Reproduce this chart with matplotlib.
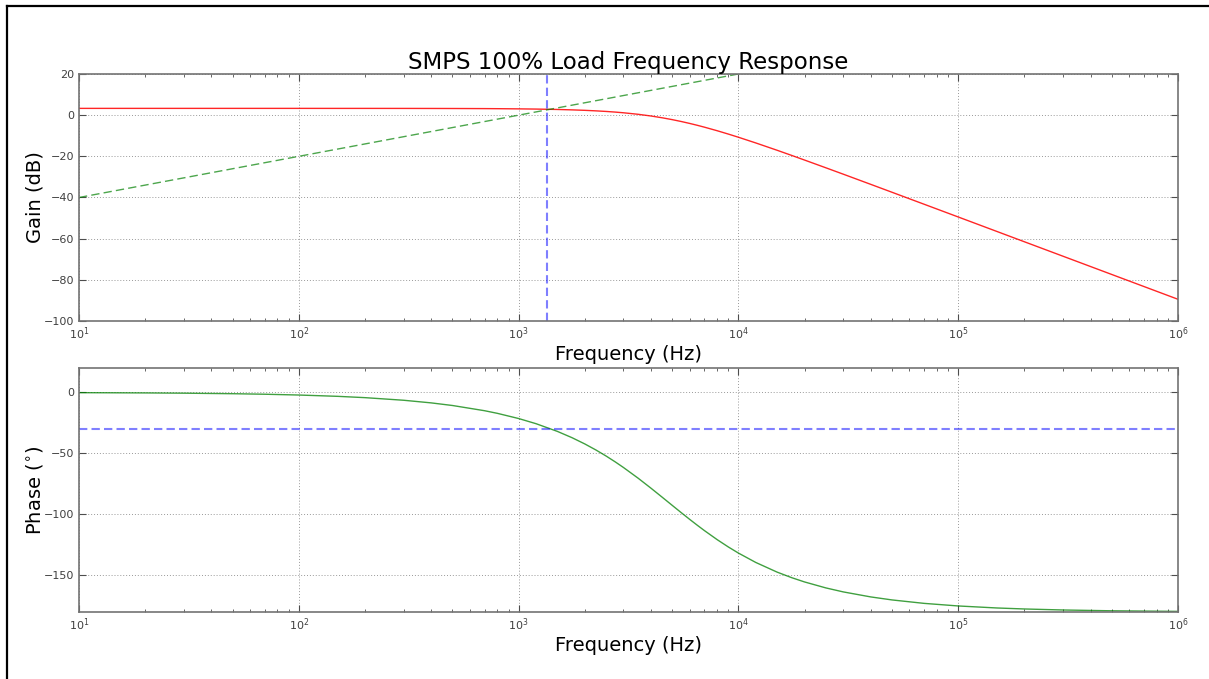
import matplotlib
matplotlib.use("Agg")
import matplotlib.pyplot as plt
from matplotlib.lines import Line2D

# Frequency points (Hz)
freq = [10, 20, 30, 50, 70, 100, 150, 200, 300, 400, 500, 700, 800, 1000,
        1200, 1500, 1750, 2000, 2250, 2500, 2750, 3000, 3500, 4000, 4500,
        5000, 5500, 6000, 6500, 7000, 8000, 9000, 10000, 12000, 15000,
        17500, 20000, 25000, 30000, 40000, 50000, 70000, 100000, 150000,
        200000, 300000, 500000, 1000000]

# Gain (dB), red curve
gain_db = [3.30, 3.30, 3.30, 3.30, 3.30, 3.30, 3.29, 3.29, 3.28, 3.26, 3.24,
           3.19, 3.15, 3.06, 2.96, 2.77, 2.57, 2.35, 2.09, 1.81, 1.50, 1.16,
           0.42, -0.40, -1.27, -2.17, -3.09, -4.01, -4.92, -5.82, -7.55,
           -9.19, -10.72, -13.50, -17.05, -19.58, -21.81, -25.57, -28.67,
           -33.61, -37.46, -43.28, -49.46, -56.50, -61.50, -68.54, -77.41,
           -89.45]

# Phase (deg), green curve
phase_deg = [-0.21, -0.43, -0.64, -1.07, -1.50, -2.15, -3.22, -4.30, -6.44,
             -8.59, -10.73, -15.01, -17.15, -21.41, -25.64, -31.94, -37.12,
             -42.23, -47.24, -52.14, -56.92, -61.56, -70.36, -78.49, -85.90,
             -92.6, -98.63, -104.04, -108.88, -113.23, -120.65, -126.70,
             -131.69, -139.40, -147.31, -151.90, -155.37, -160.26, -163.53,
             -167.64, -170.11, -172.93, -175.05, -176.70, -177.52, -178.35,
             -179.01, -179.50]

# 20 dB/decade reference line
ref_freq = [10, 10000]
ref_db = [-40, 20]

# markers
crossover_hz = 1350
phase_limit = -30

W, H = 1209, 679
fig = plt.figure(figsize=(W / 100, H / 100), dpi=100)
fig.patch.set_facecolor("white")

ax1 = fig.add_axes([79 / W, 1 - 321 / H, 1099 / W, 247 / H])
ax2 = fig.add_axes([79 / W, 1 - 612 / H, 1099 / W, 244 / H])


def style_axes(ax):
    ax.set_xscale("log")
    ax.set_xlim(10, 1e6)
    ax.grid(True, which="major", color="0.6", linestyle=(0, (1, 2)),
            linewidth=0.7)
    ax.tick_params(which="both", direction="in", top=True, right=True,
                   labelsize=8, labelcolor="0.25", color="0.3")
    ax.tick_params(which="major", length=5)
    ax.tick_params(which="minor", length=2.5)
    for s in ax.spines.values():
        s.set_color("0.45")
        s.set_linewidth(1.2)
    ax.set_xlabel("Frequency (Hz)", fontsize=14, labelpad=2)


# Gain plot
ax1.plot(freq, gain_db, color="red", lw=1, alpha=0.85)
ax1.plot(ref_freq, ref_db, color="green", lw=1, alpha=0.7,
         linestyle="--", dashes=(6, 3))
ax1.axvline(crossover_hz, color="blue", lw=1.5, alpha=0.5,
            linestyle="--", dashes=(4, 2))
style_axes(ax1)
ax1.set_ylim(-100, 20)
ax1.set_yticks(range(-100, 21, 20))
ax1.set_ylabel("Gain (dB)", fontsize=14)
ax1.set_title("SMPS 100% Load Frequency Response", fontsize=16.5, pad=1)

# Phase plot
ax2.plot(freq, phase_deg, color="green", lw=1, alpha=0.75)
ax2.axhline(phase_limit, color="blue", lw=1.5, alpha=0.5,
            linestyle="--", dashes=(4, 2))
style_axes(ax2)
ax2.set_ylim(-180, 20)
ax2.set_yticks([0, -50, -100, -150])
ax2.set_ylabel(r"Phase ($^{\circ}$)", fontsize=14)

ax1.yaxis.set_label_coords(-0.031, 0.5)
ax2.yaxis.set_label_coords(-0.031, 0.5)

# frame lines along top and left edge
fig.add_artist(Line2D([7 / W, 1], [1 - 6 / H, 1 - 6 / H], color="black",
                      lw=1.6, transform=fig.transFigure))
fig.add_artist(Line2D([7 / W, 7 / W], [0, 1 - 6 / H], color="black",
                      lw=1.6, transform=fig.transFigure))

fig.savefig("out.png", dpi=100)
